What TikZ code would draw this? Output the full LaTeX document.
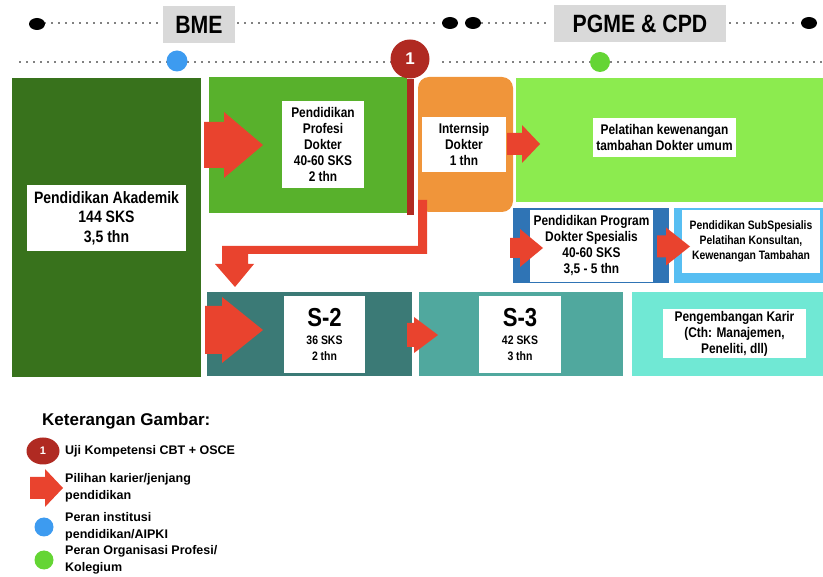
\documentclass[tikz,border=0pt]{standalone}
\usepackage{fontspec}
\usetikzlibrary{shapes.geometric}
\setmainfont{Liberation Sans}
\newfontfamily\nf{Liberation Sans}[FakeStretch=0.85]
\newfontfamily\lf{Liberation Sans}
\definecolor{akad}{HTML}{38721C}
\definecolor{prof}{HTML}{58B12C}
\definecolor{orng}{HTML}{F0953A}
\definecolor{lgrn}{HTML}{8CEB4F}
\definecolor{spblue}{HTML}{2F74B5}
\definecolor{lblue}{HTML}{57BEF2}
\definecolor{tealA}{HTML}{3B7A76}
\definecolor{tealB}{HTML}{50A89E}
\definecolor{mint}{HTML}{70E8D4}
\definecolor{arrowred}{HTML}{E9432E}
\definecolor{darkred}{HTML}{B02A22}
\definecolor{dotblue}{HTML}{3D9BF0}
\definecolor{dotgreen}{HTML}{64D534}
\definecolor{titlegrey}{HTML}{D9D9D9}
\newcommand{\blkarrow}[6]{%
  \fill[arrowred] (#1,{#2-#5}) -- (#3,{#2-#5}) -- (#3,{#2-#6}) -- (#4,#2)
    -- (#3,{#2+#6}) -- (#3,{#2+#5}) -- (#1,{#2+#5}) -- cycle;}
\begin{document}
\begin{tikzpicture}[x=1pt,y=-1pt,
  blk/.style={inner sep=0pt,outer sep=0pt,anchor=north west},
  lbl/.style={fill=white,inner sep=0pt,outer sep=0pt,align=center,font=\nf\bfseries\fontsize{14}{16}\selectfont},
  dotline/.style={line width=1.6pt,line cap=round,dash pattern=on 0pt off 7pt},
  legtxt/.style={anchor=west,inner sep=0pt,align=left,font=\lf\bfseries\fontsize{12.5}{17}\selectfont}]
\useasboundingbox (0,0) rectangle (823,577);
% ---------- top header lines ----------
\coordinate (t0) at (45,23);
\coordinate (t1) at (160,23);
\coordinate (t2) at (238,23);
\coordinate (t3) at (441,23);
\coordinate (t4) at (482,23);
\coordinate (t5) at (552,23);
\coordinate (t6) at (730,23);
\coordinate (t7) at (800,23);
\draw[dotline] (t0) -- (t1);
\draw[dotline] (t2) -- (t3);
\draw[dotline] (t4) -- (t5);
\draw[dotline] (t6) -- (t7);
\fill (37,24) ellipse [x radius=8, y radius=6];
\fill (450,23) ellipse [x radius=8, y radius=6];
\fill (473,23) ellipse [x radius=8, y radius=6];
\fill (809,23) ellipse [x radius=8, y radius=6];
\node[fill=titlegrey,inner sep=0pt,minimum width=72pt,minimum height=37pt,font=\nf\bfseries\fontsize{25}{28}\selectfont] (bme) at (199,24.5) {BME};
\node[fill=titlegrey,inner sep=0pt,minimum width=172pt,minimum height=37pt,font=\nf\bfseries\fontsize{25}{28}\selectfont] (pgme) at (640,23.5) {PGME \& CPD};
% ---------- second line ----------
\coordinate (s0) at (20,62);
\coordinate (s1) at (392,62);
\coordinate (s2) at (443,62);
\coordinate (s3) at (822,62);
\draw[dotline] (s0) -- (s1);
\draw[dotline] (s2) -- (s3);
\node[circle,fill=dotblue,minimum size=21pt,inner sep=0pt] (bdot) at (177,61) {};
\node[circle,fill=dotgreen,minimum size=20pt,inner sep=0pt] (gdot) at (600,62) {};
% ---------- boxes ----------
\node[blk,fill=akad,minimum width=189pt,minimum height=299pt] (akad) at (12,78) {};
\node[blk,fill=prof,minimum width=198pt,minimum height=136pt] (prof) at (209,77) {};
\fill[orng,rounded corners=11pt] (418,77) rectangle (513,212);
\node[blk,minimum width=95pt,minimum height=135pt] (intern) at (418,77) {};
\node[blk,fill=lgrn,minimum width=307pt,minimum height=124pt] (pelat) at (516,78) {};
\node[blk,fill=spblue,minimum width=156pt,minimum height=75pt] (spes) at (513,208) {};
\node[blk,fill=lblue,minimum width=149pt,minimum height=75pt] (subsp) at (674,208) {};
\node[blk,fill=tealA,minimum width=205pt,minimum height=84pt] (s2) at (207,292) {};
\node[blk,fill=tealB,minimum width=204pt,minimum height=84pt] (s3) at (419,292) {};
\node[blk,fill=mint,minimum width=191pt,minimum height=84pt] (karir) at (632,292) {};
% ---------- labels ----------
\node[lbl,minimum width=159pt,minimum height=66pt,font=\nf\bfseries\fontsize{16.5}{19.5}\selectfont] (lakad) at (106.5,218) {Pendidikan Akademik\\144 SKS\\3,5 thn};
\node[lbl,minimum width=82pt,minimum height=87pt] (lprof) at (323,144.5) {Pendidikan\\Profesi\\Dokter\\40-60 SKS\\2 thn};
\node[lbl,minimum width=84pt,minimum height=55pt] (lintern) at (464,144.5) {Internsip\\Dokter\\1 thn};
\node[lbl,minimum width=143pt,minimum height=39pt] (lpelat) at (664.5,137.5) {Pelatihan kewenangan\\tambahan Dokter umum};
\node[lbl,minimum width=123pt,minimum height=72pt] (lspes) at (591.5,246) {Pendidikan Program\\Dokter Spesialis\\40-60 SKS\\3,5 - 5 thn};
\node[lbl,minimum width=138pt,minimum height=63pt,font=\nf\bfseries\fontsize{12.2}{15}\selectfont] (lsubsp) at (751,241.5) {Pendidikan SubSpesialis\\Pelatihan Konsultan,\\Kewenangan Tambahan};
\node[lbl,minimum width=81pt,minimum height=77pt] (ls2) at (324.5,334.5) {{\fontsize{26}{26}\selectfont S-2}\\[2pt]{\fontsize{12.3}{16}\selectfont 36 SKS}\\{\fontsize{12.3}{16}\selectfont 2 thn}};
\node[lbl,minimum width=82pt,minimum height=77pt] (ls3) at (520,334.5) {{\fontsize{26}{26}\selectfont S-3}\\[2pt]{\fontsize{12.3}{16}\selectfont 42 SKS}\\{\fontsize{12.3}{16}\selectfont 3 thn}};
\node[lbl,minimum width=143pt,minimum height=49pt] (lkarir) at (734.5,333.5) {Pengembangan Karir\\(Cth: Manajemen,\\Peneliti, dll)};
% ---------- red arrows ----------
\blkarrow{204}{145}{224}{263}{23}{33}
\blkarrow{507}{144}{522}{540}{11}{19}
\blkarrow{510}{248}{520}{543}{10}{19}
\blkarrow{657}{246.5}{666}{690}{11}{19}
\blkarrow{205}{330}{222}{263}{24}{33}
\blkarrow{407}{335}{414}{438}{12}{18}
% L-shaped arrow
\fill[arrowred] (427,200) -- (427,254) -- (248,254) -- (248,264) -- (254,264)
  -- (235,287) -- (215,264) -- (222,264) -- (222,246) -- (418,246) -- (418,200) -- cycle;
% ---------- exam marker ----------
\node[circle,fill=darkred,minimum size=39pt,inner sep=0pt,text=white,font=\lf\bfseries\fontsize{17}{17}\selectfont] (exam) at (410,59) {1};
\coordinate (examend) at (410,215);
\draw[darkred,line width=7pt] (exam.south) -- (examend);
% ---------- legend ----------
\node[anchor=west,inner sep=0pt,font=\lf\bfseries\fontsize{17}{20}\selectfont] (legtitle) at (42,421) {Keterangan Gambar:};
\node[ellipse,fill=darkred,minimum width=33pt,minimum height=27pt,inner sep=0pt,text=white,font=\lf\bfseries\fontsize{11}{11}\selectfont] (leg1) at (43,451) {1};
\node[legtxt] (legt1) at (65,451) {Uji Kompetensi CBT + OSCE};
\blkarrow{30}{488}{45}{63}{11}{19}
\node[legtxt] (legt2) at (65,488) {Pilihan karier/jenjang\\pendidikan};
\node[circle,fill=dotblue,minimum size=19pt,inner sep=0pt] (legb) at (44,527) {};
\node[legtxt] (legt3) at (65,527) {Peran institusi\\pendidikan/AIPKI};
\node[circle,fill=dotgreen,minimum size=19pt,inner sep=0pt] (legg) at (44,560) {};
\node[legtxt] (legt4) at (65,560) {Peran Organisasi Profesi/\\Kolegium};
\end{tikzpicture}
\end{document}
